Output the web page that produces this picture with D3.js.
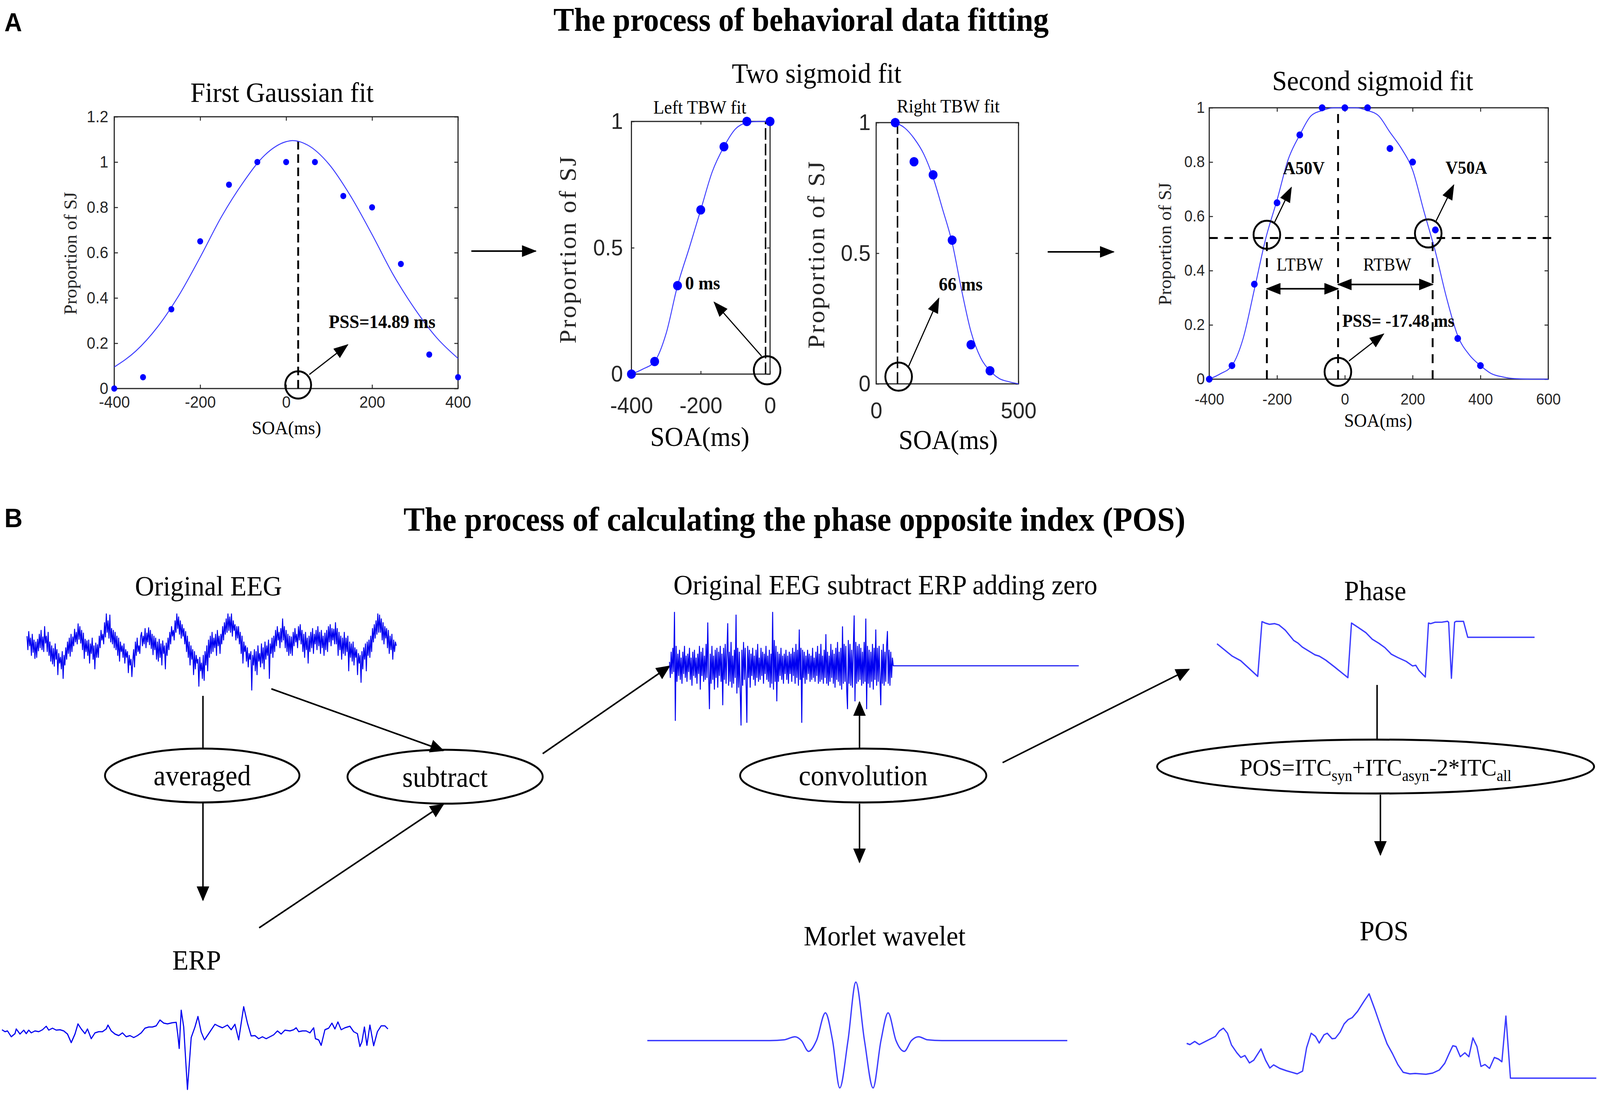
<!DOCTYPE html>
<html>
<head>
<meta charset="utf-8">
<script src="https://cdn.jsdelivr.net/npm/d3@7"></script>
<style>
  html, body { margin: 0; padding: 0; background: #fff; overflow: hidden; }
  svg { display: block; width: 100vw; height: 100vh; }
</style>
</head>
<body>
<svg id="fig"></svg>
<script>
// ---------- panel A data: proportion of simultaneity judgements per SOA
const soa = [-400, -333, -267, -200, -133, -67, 0, 67, 133, 200, 267, 333, 400]
const propSJ = [0, 0.05, 0.35, 0.65, 0.9, 1, 1, 1, 0.85, 0.8, 0.55, 0.15, 0.05]

// fitted curves
const gaussX = [-400, -350, -300, -250, -200, -150, -100, -50, 0, 15, 50, 100, 150, 200, 250, 300, 350, 400]
const gaussY = [0.095, 0.165, 0.27, 0.41, 0.58, 0.76, 0.91, 1.03, 1.09, 1.095, 1.075, 0.99, 0.85, 0.68, 0.5, 0.35, 0.225, 0.133]
const leftFitX = [-400, -367, -333, -300, -267, -233, -200, -167, -133, -100, -67, -33, 0]
const leftFitY = [0, 0.02, 0.05, 0.16, 0.35, 0.5, 0.65, 0.8, 0.9, 0.97, 0.995, 1, 1]
const rightFitX = [67, 100, 133, 167, 200, 233, 267, 300, 333, 367, 400, 433, 467, 500]
const rightFitY = [1, 0.98, 0.94, 0.88, 0.79, 0.67, 0.54, 0.36, 0.2, 0.1, 0.05, 0.02, 0.008, 0]
const secondFitX = [-400, -367, -333, -300, -267, -233, -200, -167, -133, -100, -67, -33, 0, 33, 67, 100, 133, 167, 200, 233, 267, 300, 333, 367, 400, 433, 467, 500, 550, 600]
const secondFitY = [0, 0.02, 0.05, 0.15, 0.33, 0.52, 0.66, 0.81, 0.9, 0.97, 0.99, 1, 1, 1, 0.99, 0.97, 0.91, 0.85, 0.77, 0.62, 0.47, 0.3, 0.16, 0.09, 0.05, 0.02, 0.008, 0.002, 0, 0]

// tick labels
const gaussTicksX = [-400, -200, 0, 200, 400]
const gaussTicksY = [0, 0.2, 0.4, 0.6, 0.8, 1, 1.2]
const leftTicksX = [-400, -200, 0]
const rightTicksX = [0, 500]
const halfTicksY = [0, 0.5, 1]
const secondTicksX = [-400, -200, 0, 200, 400, 600]
const secondTicksY = [0, 0.2, 0.4, 0.6, 0.8, 1]

// ---------- panel B data: traces (arbitrary units)
const eegOriginal = [
  30,-5,42,5,25,-20,35,-12,20,-28,  15,-25,22,-8,35,0,45,-5,28,-10,
  55,12,30,-10,40,-20,15,-35,5,-42,  -2,-48,10,-30,-5,-70,-15,-40,-25,-55,
  -10,-80,-20,-45,0,-30,15,-15,25,-22,  35,-10,28,5,48,15,40,10,62,22,
  55,12,45,-5,38,-28,22,-10,18,-20,  20,-40,10,-15,25,-30,5,-55,12,-25,
  8,-25,30,0,45,20,35,10,65,28,  88,40,70,25,85,15,50,10,45,0,
  40,-5,30,-20,25,-35,15,-10,5,-25,  10,-40,-5,-25,-10,-65,-20,-45,-30,-75,
  -35,-5,-50,15,-20,25,-10,5,-15,30,  40,5,30,10,50,0,38,15,52,8,
  45,-2,35,-18,30,-5,25,-30,15,-35,  22,-25,10,-45,18,-15,5,-55,12,-20,
  25,-5,40,10,55,30,45,20,70,40,  88,50,80,35,70,25,60,30,50,10,
  42,-10,30,-25,15,-45,5,-30,-5,-70,  -10,-55,-20,-40,-30,-100,-25,-60,-40,-80,
  -20,-85,-10,-45,5,-60,20,-25,30,-15,  40,-10,25,0,35,-20,45,5,30,-15,
  35,10,55,20,65,35,75,40,88,45,  80,40,88,30,70,45,60,20,55,25,
  55,10,40,-15,30,-40,15,-10,5,-35,  0,-50,-15,-30,-10,-110,-20,-45,-5,-60,
  -10,-70,5,-35,-15,-50,10,-40,0,-55,  15,-30,5,-20,20,-80,10,-15,25,-25,
  30,-10,45,5,55,20,40,0,50,15,  75,20,55,0,45,-10,35,-20,30,-15,
  28,-20,40,5,50,15,35,0,55,20,  60,10,45,-10,35,-25,40,-5,25,-40,
  30,-10,40,0,50,-15,35,10,45,-5,  55,5,40,-15,45,0,30,-20,38,-5,
  45,-10,55,15,60,5,50,20,48,10,  65,10,50,-20,40,-5,30,-30,25,-15,
  40,-20,25,-10,30,-60,15,-25,10,-35,  15,-45,0,-25,-5,-70,-15,-40,-20,-90,
  -10,-55,0,-30,10,-60,15,-20,20,-25,  30,-10,50,15,60,25,70,35,88,40,
  85,40,75,20,65,10,55,25,50,0,  45,-15,30,-5,35,-30,20,-10,15,5
]
const eegSubtracted = [
  10,-30,35,-20,45,-15,137,-140,50,-40,
  30,-25,40,-35,20,-45,35,-20,50,-30,
  25,-40,30,-15,45,-35,20,-50,35,-25,
  40,-30,20,-45,30,-20,50,-60,35,-25,
  45,-40,25,-35,55,-30,110,-20,-110,30,
  -45,50,-35,25,-60,40,-30,45,-55,35,
  -25,50,-40,30,-100,45,-35,55,-45,30,
  108,-50,35,-40,60,-55,25,-45,40,-30,
  130,-70,45,-55,35,-65,-152,40,-50,60,
  -35,45,-40,-145,50,-30,40,-55,30,-25,
  45,-35,25,-50,40,-30,55,-40,20,-35,
  45,-25,35,-45,30,-20,50,-35,25,-40,
  40,-55,30,-45,137,-60,65,-40,50,-90,
  35,-40,30,-25,45,-35,25,-45,30,-20,
  40,-35,25,-45,35,-20,30,-40,45,-25,
  35,-45,55,-30,40,-50,92,-35,45,-145,
  40,-30,35,-45,25,-35,40,-20,30,-40,
  25,-35,45,-30,20,-40,35,-25,50,-45,
  30,-40,55,-35,25,-45,40,-30,80,-45,
  35,-50,25,-40,55,-30,40,-45,30,-55,
  45,-35,60,-40,35,-50,45,-60,100,-45,
  55,-40,50,-60,-110,65,-45,55,-50,40,
  -55,45,128,-90,60,-45,50,-40,55,-35,
  45,-50,35,-45,60,-40,120,-110,50,-45,
  40,-55,35,-40,55,-60,45,-35,92,-50,
  45,-40,50,-35,-100,40,-45,55,-50,35,
  -40,50,88,-45,40,-50,35,-30,20,0
]
const zeroPadEnd = 492   // sample index where the added zeros stop

const erpT = [
  8,20,30,45,60,65,80,95,105,115,
  125,140,155,170,185,195,210,225,240,255,
  270,285,300,312,325,340,350,365,380,395,
  410,425,432,445,460,475,490,505,520,535,
  550,565,580,595,610,625,640,655,670,690,
  705,712,717,725,735,750,765,780,792,805,
  818,835,860,875,890,910,925,940,955,965,
  975,990,1005,1020,1035,1050,1065,1080,1095,1110,
  1125,1140,1160,1175,1185,1195,1210,1225,1240,1255,
  1262,1275,1285,1300,1315,1328,1340,1352,1365,1380,
  1400,1415,1430,1440,1448,1458,1468,1480,1495,1510,
  1525,1540,1552
]
const erpV = [
  3,-2,0,-15,-7,5,-8,2,-7,2,
  -5,0,-2,3,12,2,7,2,3,0,
  -8,-30,-8,18,5,-7,5,-20,-5,-2,
  -2,5,15,0,-8,-12,-5,-15,-12,-17,
  -12,-5,7,10,10,13,28,20,18,21,
  22,-13,-45,53,10,-150,-17,10,37,-3,
  -23,-7,17,12,8,15,3,17,-23,20,
  62,20,-13,-12,-20,-15,-20,-15,-10,0,
  -8,2,0,3,8,-2,0,0,-5,8,
  -20,-23,-37,3,7,20,5,23,3,8,
  12,-2,-7,-40,-28,10,-37,15,-38,-2,
  13,13,5
]

const morletT = [218, 560, 600, 630, 648, 668, 690, 715, 735, 755, 778, 800, 824, 848, 870, 890, 912, 935, 955, 975, 1000, 1040, 1390]
const morletV = [0, 0, 2, 10, 0, -28, 0, 72, 0, -123, 0, 152, 0, -123, 0, 72, 0, -28, 0, 10, 2, 0, 0]

const phaseT = [38,110,150,230,250,265,285,310,330,360,380,400,420,440,470,500,520,550,590,620,655,
  672,700,740,770,800,830,860,890,930,960,975,990,1020,1035,1045,1065,1100,1125,1130,1143,1158,1165,1200,1220,1535]
const phaseV = [0.66,-0.70,-1.21,-2.93,3.10,2.95,2.81,2.88,2.74,2.16,1.59,1.02,0.73,0.30,-0.13,-0.56,-0.70,-1.13,-1.85,-2.42,-3.07,
  2.95,2.52,1.88,1.16,0.73,0.23,-0.49,-0.85,-1.28,-1.78,-1.71,-2.28,-3.00,2.95,2.88,3.03,3.05,3.14,3.03,-3.14,3.03,3.13,3.13,1.38,1.38]

const posT = [
  28,40,58,75,95,115,135,150,165,180,
  195,215,230,245,262,278,305,322,338,352,
  375,400,440,460,475,492,508,522,540,552,
  570,582,600,615,630,645,665,690,708,730,
  755,775,795,815,835,860,880,920,945,970,
  990,1005,1020,1032,1048,1065,1080,1095,1110,1125,
  1140,1157,1175,1190,1203,1218,1235,1555
]
const posV = [
  91,88,96,88,95,102,109,123,130,117,
  87,67,55,60,41,48,77,48,28,36,
  27,21,13,20,80,117,109,92,113,117,
  103,104,120,141,152,157,173,200,218,177,
  127,90,65,37,17,13,14,12,15,23,
  40,63,85,83,57,67,57,105,83,32,
  37,27,55,51,44,161,2,2
]

// ---------- drawing
const W = 4328, H = 2799
const SERIF = '"Liberation Serif", "Times New Roman", serif'
const SANS = '"Liberation Sans", Arial, sans-serif'
const AXIS = '#262626'
const FIT = '#3b3bff'
const DOT = '#0000ff'
const TRACE = '#0000f0'

// drawn in the reference's pixel space, stretched onto whatever the window is
var svg = d3.select('#fig').attr('viewBox', `0 0 ${W} ${H}`).attr('preserveAspectRatio', 'none')
svg.append('rect').attr('width', W).attr('height', H).attr('fill', '#fff')
var defs = svg.append('defs')

function addHead(id, len, wid) {
  defs.append('marker').attr('id', id)
    .attr('viewBox', `0 0 ${len} ${wid}`)
    .attr('refX', len - 3).attr('refY', wid / 2)
    .attr('markerWidth', len).attr('markerHeight', wid)
    .attr('markerUnits', 'userSpaceOnUse')
    .attr('orient', 'auto-start-reverse')
    .append('path').attr('d', `M0,0L${len},${wid / 2}L0,${wid}Z`).attr('fill', '#000')
}
addHead('headA', 40, 30)
addHead('headB', 38, 34)

function label(g, x, y, s, o) {
  o = o || {}
  return g.append('text').attr('x', x).attr('y', y)
    .attr('font-family', o.family || SERIF)
    .attr('font-size', o.size || 72)
    .attr('font-weight', o.weight || 'normal')
    .attr('text-anchor', o.anchor || 'middle')
    .attr('letter-spacing', o.spacing || 0)
    .attr('fill', '#000')
    .text(s)
}

function vlabel(g, x, y, s, o) {
  o = o || {}
  return g.append('text').attr('transform', `translate(${x},${y}) rotate(-90)`)
    .attr('font-family', SERIF).attr('font-size', o.size || 48)
    .attr('letter-spacing', o.spacing || 0)
    .attr('text-anchor', 'middle').attr('fill', AXIS).text(s)
}

function arrow(g, x1, y1, x2, y2, o) {
  o = o || {}
  var l = g.append('line')
    .attr('x1', x1).attr('y1', y1).attr('x2', x2).attr('y2', y2)
    .attr('stroke', '#000').attr('stroke-width', o.w || 4)
  if (o.head !== false) l.attr('marker-end', `url(#${o.marker || 'headA'})`)
  if (o.both) l.attr('marker-start', `url(#${o.marker || 'headA'})`)
  return l
}

function ring(g, cx, cy, r) {
  g.append('circle').attr('cx', cx).attr('cy', cy).attr('r', r)
    .attr('fill', 'none').attr('stroke', '#000').attr('stroke-width', 5)
}

function dashed(g, x1, y1, x2, y2, w, dash) {
  g.append('line').attr('x1', x1).attr('y1', y1).attr('x2', x2).attr('y2', y2)
    .attr('stroke', '#000').attr('stroke-width', w || 5)
    .attr('stroke-dasharray', dash || '22,12')
}

// MATLAB style box with inward ticks on all four sides
function plotBox(c) {
  var x = d3.scaleLinear().domain(c.xd).range([c.left, c.right])
  var y = d3.scaleLinear().domain(c.yd).range([c.bottom, c.top])
  var g = svg.append('g')
  var fmt = d => String(d)
  var axes = [
    g.append('g').attr('transform', `translate(0,${c.bottom})`)
      .call(d3.axisBottom(x).tickValues(c.xt).tickFormat(fmt).tickSize(-c.tick).tickPadding(c.xpad)),
    g.append('g').attr('transform', `translate(${c.left},0)`)
      .call(d3.axisLeft(y).tickValues(c.yt).tickFormat(fmt).tickSize(-c.tick).tickPadding(c.ypad)),
    g.append('g').attr('transform', `translate(0,${c.top})`)
      .call(d3.axisTop(x).tickValues(c.xt).tickFormat('').tickSize(-c.tick)),
    g.append('g').attr('transform', `translate(${c.right},0)`)
      .call(d3.axisRight(y).tickValues(c.yt).tickFormat('').tickSize(-c.tick))
  ]
  axes.forEach(a => {
    a.select('.domain').remove()
    a.selectAll('line').attr('stroke', AXIS).attr('stroke-width', 2.5)
    a.selectAll('text').attr('font-family', SANS).attr('font-size', c.font).attr('fill', AXIS)
  })
  g.append('rect').attr('x', c.left).attr('y', c.top)
    .attr('width', c.right - c.left).attr('height', c.bottom - c.top)
    .attr('fill', 'none').attr('stroke', AXIS).attr('stroke-width', 3)
  return { g, x, y }
}

function fitLine(p, xs, ys, w) {
  var line = d3.line().x(d => p.x(d[0])).y(d => p.y(d[1])).curve(d3.curveMonotoneX)
  p.g.append('path').datum(d3.zip(xs, ys)).attr('d', line)
    .attr('fill', 'none').attr('stroke', FIT).attr('stroke-width', w || 2.5)
}

function dots(p, pts, r) {
  p.g.selectAll(null).data(pts).enter().append('circle')
    .attr('cx', d => p.x(d[0])).attr('cy', d => p.y(d[1])).attr('r', r).attr('fill', DOT)
}

var behav = d3.zip(soa, propSJ)

// ---- panel A titles
label(svg, 12, 80, 'A', { family: SANS, size: 66, weight: 'bold', anchor: 'start' })
label(svg, 2167, 79, 'The process of behavioral data fitting', { size: 84, weight: 'bold' })

// ---- First Gaussian fit
var p1 = plotBox({ xd: [-400, 400], yd: [0, 1.2], left: 309, right: 1239, top: 299, bottom: 995,
  xt: gaussTicksX, yt: gaussTicksY, tick: 10, xpad: 19, ypad: 16, font: 42 })
label(svg, 763, 261, 'First Gaussian fit', { size: 72 })
label(svg, 775, 1112, 'SOA(ms)', { size: 49 })
vlabel(svg, 207, 649, 'Proportion of SJ', { size: 48 })
dashed(p1.g, p1.x(28), p1.y(0), p1.x(28), p1.y(1.113))
fitLine(p1, gaussX, gaussY)
dots(p1, behav, 8)
ring(p1.g, p1.x(28), p1.y(0.016), 35)
arrow(p1.g, p1.x(54), p1.y(0.062), p1.x(143), p1.y(0.193), { w: 3 })
label(p1.g, p1.x(99), p1.y(0.267), 'PSS=14.89 ms', { size: 48, weight: 'bold', anchor: 'start' })

arrow(svg, 1275, 643, 1449, 643, { w: 4 })

// ---- Two sigmoid fit
label(svg, 2209, 212, 'Two sigmoid fit', { size: 72 })
var p2 = plotBox({ xd: [-400, 0], yd: [0, 1], left: 1708, right: 2083, top: 311, bottom: 958,
  xt: leftTicksX, yt: halfTicksY, tick: 8, xpad: 59, ypad: 23, font: 58 })
label(svg, 1893, 291, 'Left TBW fit', { size: 48 })
label(svg, 1893, 1142, 'SOA(ms)', { size: 70 })
vlabel(svg, 1557, 638, 'Proportion of SJ', { size: 64, spacing: 4 })
dashed(p2.g, p2.x(-13), p2.y(0), p2.x(-13), p2.y(1), 4, '30,10')
fitLine(p2, leftFitX, leftFitY)
dots(p2, behav.filter(d => d[0] <= 0), 12)
ring(p2.g, p2.x(-8.5), p2.y(0.015), 36)
arrow(p2.g, p2.x(-24.5), p2.y(0.071), p2.x(-161), p2.y(0.284), { w: 3 })
label(p2.g, p2.x(-245), p2.y(0.335), '0 ms', { size: 48, weight: 'bold', anchor: 'start' })

var p3 = plotBox({ xd: [0, 500], yd: [0, 1], left: 2370, right: 2755, top: 314, bottom: 983,
  xt: rightTicksX, yt: halfTicksY, tick: 8, xpad: 47, ypad: 15, font: 58 })
label(svg, 2565, 288, 'Right TBW fit', { size: 48 })
label(svg, 2565, 1150, 'SOA(ms)', { size: 70 })
vlabel(svg, 2230, 651, 'Proportion of SJ', { size: 64, spacing: 4 })
dashed(p3.g, p3.x(75), p3.y(0), p3.x(75), p3.y(1), 4, '30,10')
fitLine(p3, rightFitX, rightFitY)
dots(p3, behav.filter(d => d[0] > 0), 12)
ring(p3.g, p3.x(79), p3.y(0.0275), 36)
arrow(p3.g, p3.x(114), p3.y(0.067), p3.x(220), p3.y(0.327), { w: 3 })
label(p3.g, p3.x(220), p3.y(0.357), '66 ms', { size: 48, weight: 'bold', anchor: 'start' })

arrow(svg, 2834, 645, 3012, 645, { w: 4 })

// ---- Second sigmoid fit
label(svg, 3713, 231, 'Second sigmoid fit', { size: 72 })
var p4 = plotBox({ xd: [-400, 600], yd: [0, 1], left: 3271, right: 4188, top: 276, bottom: 971,
  xt: secondTicksX, yt: secondTicksY, tick: 10, xpad: 37, ypad: 12, font: 40 })
label(svg, 3728, 1093, 'SOA(ms)', { size: 48 })
vlabel(svg, 3168, 625, 'Proportion of SJ', { size: 48 })
dashed(p4.g, p4.x(-400), p4.y(0.52), p4.x(624), p4.y(0.52), 5, '23,18')
dashed(p4.g, p4.x(-230), p4.y(0), p4.x(-230), p4.y(0.52), 5, '23,18')
dashed(p4.g, p4.x(-20), p4.y(0), p4.x(-20), p4.y(1), 5, '23,18')
dashed(p4.g, p4.x(259), p4.y(0), p4.x(259), p4.y(0.52), 5, '23,18')
fitLine(p4, secondFitX, secondFitY)
dots(p4, behav, 9)
ring(p4.g, p4.x(-230), p4.y(0.532), 36)
ring(p4.g, p4.x(246), p4.y(0.537), 36)
ring(p4.g, p4.x(-20.5), p4.y(0.027), 36)
arrow(p4.g, p4.x(-208), p4.y(0.576), p4.x(-158), p4.y(0.706), { w: 3 })
arrow(p4.g, p4.x(268), p4.y(0.58), p4.x(321), p4.y(0.715), { w: 3 })
arrow(p4.g, p4.x(12), p4.y(0.067), p4.x(114), p4.y(0.166), { w: 3 })
arrow(p4.g, p4.x(-230), p4.y(0.333), p4.x(-20), p4.y(0.333), { w: 4, both: true })
arrow(p4.g, p4.x(-20), p4.y(0.349), p4.x(259), p4.y(0.349), { w: 4, both: true })
label(p4.g, p4.x(-182), p4.y(0.755), 'A50V', { size: 46, weight: 'bold', anchor: 'start' })
label(p4.g, p4.x(297), p4.y(0.757), 'V50A', { size: 46, weight: 'bold', anchor: 'start' })
label(p4.g, p4.x(-133), p4.y(0.40), 'LTBW', { size: 46 })
label(p4.g, p4.x(125), p4.y(0.40), 'RTBW', { size: 46 })
label(p4.g, p4.x(-7.5), p4.y(0.193), 'PSS= -17.48 ms', { size: 46, weight: 'bold', anchor: 'start' })

// ---- panel B
label(svg, 12, 1350, 'B', { family: SANS, size: 68, weight: 'bold', anchor: 'start' })
label(svg, 2149, 1359, 'The process of calculating the phase opposite index (POS)', { size: 86, weight: 'bold' })

function trace(pts, xd, xr, yd, yr, w, color) {
  var x = d3.scaleLinear().domain(xd).range(xr)
  var y = d3.scaleLinear().domain(yd).range(yr)
  var line = d3.line().x(d => x(d[0])).y(d => y(d[1]))
  svg.append('path').datum(pts).attr('d', line)
    .attr('fill', 'none').attr('stroke', color || TRACE).attr('stroke-width', w || 2.5)
    .attr('stroke-linejoin', 'round')
}

function oval(cx, cy, rx, ry) {
  svg.append('ellipse').attr('cx', cx).attr('cy', cy).attr('rx', rx).attr('ry', ry)
    .attr('fill', 'none').attr('stroke', '#000').attr('stroke-width', 5)
}

// original EEG
label(svg, 564, 1525, 'Original  EEG', { size: 72 })
trace(eegOriginal.map((v, i) => [i, v]), [0, eegOriginal.length - 1], [73, 1072], [-117, 88], [1774, 1572], 2.6)

oval(547, 1986, 263, 69)
label(svg, 547, 2011, 'averaged', { size: 73 })
arrow(svg, 549, 1782, 549, 1917, { head: false, w: 4 })
arrow(svg, 549, 2055, 549, 2305, { marker: 'headB', w: 4 })

// ERP
label(svg, 532, 2483, 'ERP', { size: 72 })
trace(d3.zip(erpT, erpV), [0, 1560], [0, 1054.7], [-150, 62], [2790, 2578], 3)

oval(1204, 1989, 264, 69)
label(svg, 1204, 2015, 'subtract', { size: 73 })
arrow(svg, 734, 1764, 1199, 1922, { marker: 'headB', w: 4 })
arrow(svg, 701, 2376, 1199, 2060, { marker: 'headB', w: 4 })
arrow(svg, 1468, 1930, 1811, 1706, { marker: 'headB', w: 4 })

// EEG minus ERP, zero padded
label(svg, 2395, 1522, 'Original  EEG subtract ERP adding zero', { size: 72 })
trace(eegSubtracted.map((v, i) => [i, v]).concat([[zeroPadEnd, 0]]), [0, zeroPadEnd], [1811, 2918], [-150, 150], [1855, 1555], 2.6)

oval(2335, 1986, 333, 69)
label(svg, 2335, 2011, 'convolution', { size: 73 })
arrow(svg, 2325, 1917, 2325, 1798, { marker: 'headB', w: 4 })
arrow(svg, 2325, 2058, 2325, 2208, { marker: 'headB', w: 4 })
arrow(svg, 2712, 1953, 3216, 1714, { marker: 'headB', w: 4 })

// Morlet wavelet
label(svg, 2393, 2421, 'Morlet  wavelet', { size: 72 })
var mx = d3.scaleLinear().domain([218, 1390]).range([1751, 2887])
var my = d3.scaleLinear().domain([-123, 152]).range([2786, 2515])
svg.append('path').datum(d3.zip(morletT, morletV))
  .attr('d', d3.line().x(d => mx(d[0])).y(d => my(d[1])).curve(d3.curveMonotoneX))
  .attr('fill', 'none').attr('stroke', FIT).attr('stroke-width', 3.5)

// phase
label(svg, 3720, 1537, 'Phase', { size: 72 })
trace(d3.zip(phaseT, phaseV), [38, 1535], [3292, 4151], [-Math.PI, Math.PI], [1737, 1591], 3.5, FIT)
arrow(svg, 3725, 1754, 3725, 1892, { head: false, w: 4 })

oval(3721, 1963, 591, 69)
var f = svg.append('text').attr('x', 3721).attr('y', 1986).attr('text-anchor', 'middle')
  .attr('font-family', SERIF).attr('font-size', 62).attr('fill', '#000')
f.append('tspan').text('POS=ITC')
f.append('tspan').attr('font-size', 40).attr('dy', 14).text('syn')
f.append('tspan').attr('dy', -14).text('+ITC')
f.append('tspan').attr('font-size', 40).attr('dy', 14).text('asyn')
f.append('tspan').attr('dy', -14).text('-2*ITC')
f.append('tspan').attr('font-size', 40).attr('dy', 14).text('all')
arrow(svg, 3734, 2035, 3734, 2189, { marker: 'headB', w: 4 })

// POS
label(svg, 3744, 2408, 'POS', { size: 72 })
trace(d3.zip(posT, posV), [28, 1555], [3210, 4318], [0, 220], [2763, 2543], 3.5, FIT)
</script>
</body>
</html>
